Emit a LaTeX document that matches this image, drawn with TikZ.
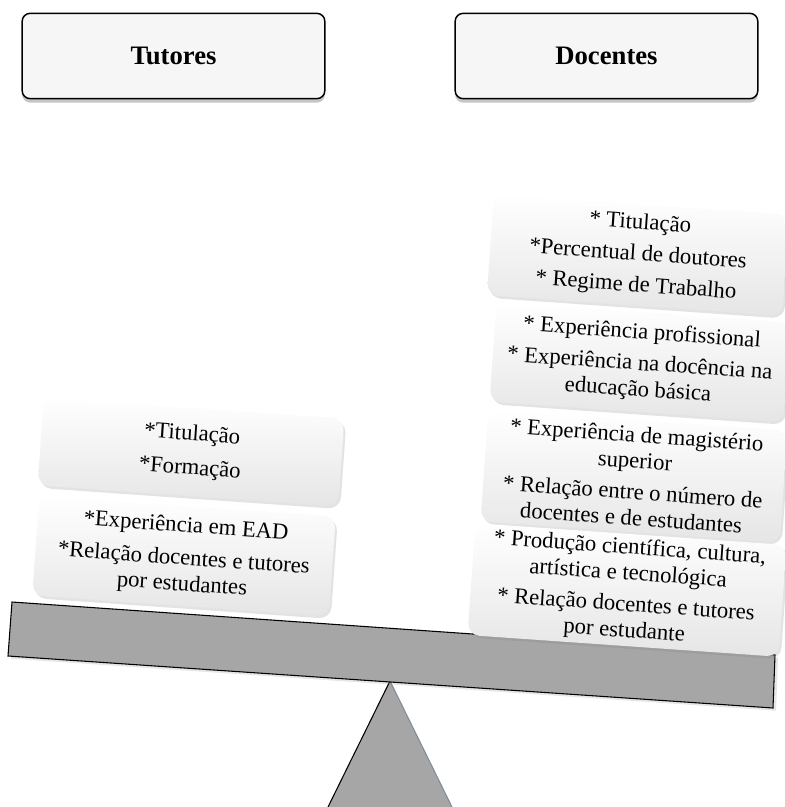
\documentclass[tikz,border=0pt]{standalone}
\usepackage{fontspec}
\setmainfont{Liberation Serif}
\usetikzlibrary{positioning,shadows,calc}

\definecolor{beamgray}{HTML}{A6A6A6}
\definecolor{edgeblue}{HTML}{7F8C9A}

\tikzset{
  headbox/.style={draw=black,line width=1.1pt,fill=gray!7,rounded corners=6pt,
    minimum width=227pt,minimum height=64pt,
    font=\fontsize{20}{23}\selectfont\bfseries,
    drop shadow={opacity=0.45,shadow xshift=0pt,shadow yshift=-3pt}},
  itembox/.style={rounded corners=9pt,top color=white,bottom color=gray!20,
    align=center,rotate=-4,inner sep=1pt,
    font=\fontsize{17}{19.5}\selectfont,
    drop shadow={opacity=0.22,shadow xshift=1.5pt,shadow yshift=-2pt}},
}

\begin{document}
\begin{tikzpicture}[x=0.75pt,y=-0.75pt]
\useasboundingbox (0,0) rectangle (785,807);
% the two groups
\node[headbox] (tut) at (173.5,56) {Tutores};
\node[headbox] (doc) at (606.5,56) {Docentes};
% fulcrum (behind the beam)
\coordinate (apex) at (390,681);
\coordinate (bl) at (328,807);
\coordinate (br) at (452,807);
\fill[beamgray] (bl) -- (apex) -- (br) -- cycle;
\draw[thick,black] (bl) -- (apex);
\draw[thick,edgeblue] (apex) -- (br);
% the beam, tilted down to the right
\coordinate (btl) at (12,602);
\coordinate (btr) at (775,655);
\coordinate (bbr) at (773,708);
\coordinate (bbl) at (8,656);
\draw[thick,fill=beamgray,drop shadow={opacity=0.2,shadow yshift=-2pt}]
  (btl) -- (btr) -- (bbr) -- (bbl) -- cycle;
% tutores side
\node[itembox,minimum width=226pt,minimum height=66pt] (t1) at (191,452)
  {*Titulação\\[6pt]*Formação};
\node[itembox,minimum width=223pt,minimum height=75pt] (t2) at (184,556)
  {*Experiência em EAD\\[5pt]*Relação docentes e tutores\\por estudantes};
% docentes side
\node[itembox,minimum width=222pt,minimum height=76pt] (d1) at (638,255)
  {* Titulação\\[4pt]*Percentual de doutores\\[4pt]* Regime de Trabalho};
\node[itembox,minimum width=221pt,minimum height=75pt] (d2) at (640,362)
  {* Experiência profissional\\[4pt]* Experiência na docência na\\educação básica};
\node[itembox,minimum width=225pt,minimum height=84pt] (d3) at (634,476)
  {* Experiência de magistério\\superior\\[4pt]* Relação entre o número de\\docentes e de estudantes};
\node[itembox,minimum width=234pt,minimum height=84pt] (d4) at (627,590)
  {* Produção científica, cultura,\\artística e tecnológica\\[4pt]* Relação docentes e tutores\\por estudante};
\end{tikzpicture}
\end{document}
